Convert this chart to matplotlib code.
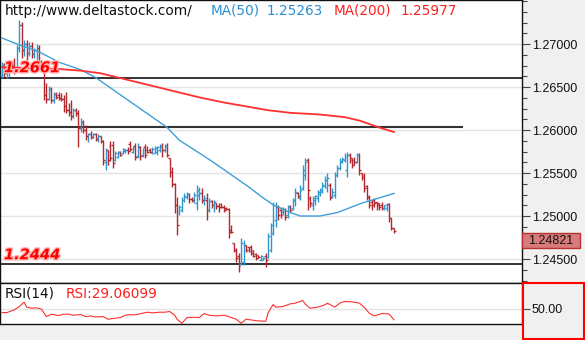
import matplotlib.pyplot as plt
import matplotlib.patheffects as pe
from matplotlib.patches import Rectangle
from matplotlib.ticker import MultipleLocator, FormatStrFormatter, FixedLocator
import matplotlib.transforms as mtransforms

# GBP/USD style OHLC bars
opens = [1.2664, 1.2676, 1.2666, 1.2674, 1.2679, 1.2674, 1.2670, 1.2695, 1.2722, 1.2693,
         1.2700, 1.2690, 1.2698, 1.2688, 1.2693, 1.2695, 1.2679,
         1.2674, 1.2641, 1.2636, 1.2648, 1.2635, 1.2642, 1.2641, 1.2637, 1.2636, 1.2628,
         1.2623, 1.2621, 1.2616, 1.2623,
         1.2620, 1.2602, 1.2609, 1.2600, 1.2593, 1.2595, 1.2592, 1.2595, 1.2590, 1.2593,
         1.2587, 1.2563, 1.2577, 1.2581, 1.2583, 1.2565, 1.2569, 1.2574, 1.2573, 1.2576,
         1.2577, 1.2584, 1.2574, 1.2581, 1.2570, 1.2580, 1.2571, 1.2580, 1.2577, 1.2577,
         1.2574, 1.2573, 1.2574, 1.2577, 1.2581, 1.2577, 1.2581, 1.2567, 1.2551, 1.2537, 1.2513,
         1.2505, 1.2507, 1.2519, 1.2522, 1.2526, 1.2520, 1.2519, 1.2515, 1.2524, 1.2527,
         1.2519, 1.2519, 1.2507, 1.2517, 1.2513, 1.2515, 1.2512, 1.2514, 1.2510, 1.2509,
         1.2508, 1.2484, 1.2469, 1.2460, 1.2453, 1.2444, 1.2446, 1.2466, 1.2464, 1.2464,
         1.2460, 1.2456, 1.2455, 1.2449, 1.2449, 1.2453, 1.2452, 1.2460, 1.2480, 1.2495,
         1.2510, 1.2507, 1.2505, 1.2507, 1.2501, 1.2512, 1.2509, 1.2519, 1.2527, 1.2521,
         1.2533, 1.2548, 1.2565, 1.2521, 1.2513, 1.2519, 1.2521, 1.2528, 1.2528, 1.2535,
         1.2533, 1.2536, 1.2522, 1.2524, 1.2548, 1.2556, 1.2563, 1.2565, 1.2554, 1.2571,
         1.2567, 1.2565, 1.2563, 1.2571, 1.2550, 1.2548, 1.2535, 1.2522, 1.2516, 1.2519,
         1.2516, 1.2515, 1.2513, 1.2509, 1.2509, 1.2514, 1.2498, 1.2486]
highs = [1.2679, 1.2678, 1.2679, 1.2681, 1.2680, 1.2684, 1.2699, 1.2728, 1.2726, 1.2705,
         1.2705, 1.2702, 1.2702, 1.2695, 1.2700, 1.2699, 1.2681,
         1.2677, 1.2655, 1.2651, 1.2650, 1.2644, 1.2644, 1.2644, 1.2643, 1.2641, 1.2644,
         1.2631, 1.2635, 1.2626, 1.2626,
         1.2623, 1.2614, 1.2612, 1.2606, 1.2597, 1.2599, 1.2597, 1.2597, 1.2595, 1.2593,
         1.2588, 1.2579, 1.2577, 1.2587, 1.2587, 1.2576, 1.2576, 1.2576, 1.2579, 1.2578,
         1.2580, 1.2587, 1.2581, 1.2585, 1.2585, 1.2581, 1.2579, 1.2584, 1.2581, 1.2579,
         1.2580, 1.2581, 1.2581, 1.2584, 1.2585, 1.2584, 1.2585, 1.2567, 1.2557, 1.2538, 1.2522,
         1.2513, 1.2522, 1.2527, 1.2528, 1.2527, 1.2522, 1.2528, 1.2536, 1.2534, 1.2533,
         1.2524, 1.2527, 1.2521, 1.2519, 1.2519, 1.2515, 1.2515, 1.2515, 1.2513, 1.2510,
         1.2509, 1.2490, 1.2469, 1.2463, 1.2457, 1.2474, 1.2472, 1.2466, 1.2464, 1.2466,
         1.2460, 1.2457, 1.2455, 1.2455, 1.2452, 1.2457, 1.2480, 1.2492, 1.2516, 1.2516,
         1.2513, 1.2510, 1.2510, 1.2509, 1.2513, 1.2513, 1.2521, 1.2533, 1.2528, 1.2536,
         1.2559, 1.2567, 1.2567, 1.2523, 1.2523, 1.2524, 1.2530, 1.2533, 1.2540, 1.2547,
         1.2550, 1.2538, 1.2533, 1.2551, 1.2559, 1.2567, 1.2569, 1.2573, 1.2574, 1.2573,
         1.2567, 1.2569, 1.2573, 1.2573, 1.2550, 1.2550, 1.2536, 1.2524, 1.2519, 1.2521,
         1.2516, 1.2515, 1.2516, 1.2513, 1.2515, 1.2515, 1.2498, 1.2486]
lows = [1.2660, 1.2662, 1.2660, 1.2662, 1.2670, 1.2665, 1.2667, 1.2691, 1.2684, 1.2686,
        1.2681, 1.2686, 1.2684, 1.2684, 1.2681, 1.2674, 1.2670,
        1.2635, 1.2631, 1.2635, 1.2631, 1.2631, 1.2636, 1.2635, 1.2634, 1.2621, 1.2620,
        1.2616, 1.2612, 1.2614, 1.2616,
        1.2580, 1.2598, 1.2597, 1.2588, 1.2586, 1.2590, 1.2591, 1.2587, 1.2586, 1.2585,
        1.2559, 1.2554, 1.2559, 1.2564, 1.2556, 1.2564, 1.2567, 1.2570, 1.2572, 1.2573,
        1.2572, 1.2576, 1.2573, 1.2565, 1.2567, 1.2565, 1.2569, 1.2567, 1.2573, 1.2573,
        1.2572, 1.2573, 1.2571, 1.2574, 1.2569, 1.2574, 1.2569, 1.2545, 1.2534, 1.2503, 1.2478,
        1.2501, 1.2505, 1.2516, 1.2520, 1.2515, 1.2516, 1.2515, 1.2507, 1.2519, 1.2515,
        1.2513, 1.2495, 1.2505, 1.2509, 1.2505, 1.2508, 1.2505, 1.2509, 1.2505, 1.2507,
        1.2474, 1.2480, 1.2458, 1.2446, 1.2435, 1.2443, 1.2443, 1.2458, 1.2458, 1.2455,
        1.2452, 1.2449, 1.2451, 1.2449, 1.2449, 1.2441, 1.2451, 1.2458, 1.2478, 1.2487,
        1.2495, 1.2498, 1.2501, 1.2495, 1.2498, 1.2505, 1.2507, 1.2512, 1.2521, 1.2519,
        1.2530, 1.2542, 1.2507, 1.2510, 1.2507, 1.2513, 1.2516, 1.2523, 1.2527, 1.2533,
        1.2528, 1.2519, 1.2521, 1.2521, 1.2545, 1.2554, 1.2562, 1.2563, 1.2545, 1.2562,
        1.2556, 1.2559, 1.2562, 1.2548, 1.2542, 1.2528, 1.2519, 1.2509, 1.2507, 1.2510,
        1.2507, 1.2507, 1.2507, 1.2507, 1.2506, 1.2493, 1.2484, 1.2480]
closes = [1.2676, 1.2666, 1.2674, 1.2679, 1.2674, 1.2670, 1.2695, 1.2722, 1.2693, 1.2700,
          1.2690, 1.2698, 1.2688, 1.2693, 1.2695, 1.2679, 1.2674,
          1.2641, 1.2636, 1.2648, 1.2635, 1.2642, 1.2638, 1.2637, 1.2636, 1.2628, 1.2623,
          1.2621, 1.2616, 1.2623, 1.2620,
          1.2602, 1.2609, 1.2600, 1.2593, 1.2595, 1.2592, 1.2595, 1.2590, 1.2593, 1.2587,
          1.2565, 1.2577, 1.2565, 1.2567, 1.2562, 1.2573, 1.2574, 1.2571, 1.2578, 1.2577,
          1.2576, 1.2578, 1.2579, 1.2569, 1.2581, 1.2570, 1.2577, 1.2571, 1.2574, 1.2574,
          1.2578, 1.2579, 1.2580, 1.2581, 1.2577, 1.2581, 1.2571, 1.2551, 1.2537, 1.2513, 1.2490,
          1.2510, 1.2519, 1.2523, 1.2526, 1.2520, 1.2519, 1.2524, 1.2530, 1.2527, 1.2519,
          1.2521, 1.2507, 1.2517, 1.2513, 1.2516, 1.2512, 1.2510, 1.2510, 1.2507, 1.2508,
          1.2481, 1.2481, 1.2460, 1.2451, 1.2442, 1.2469, 1.2466, 1.2460, 1.2459, 1.2457,
          1.2453, 1.2451, 1.2452, 1.2453, 1.2451, 1.2449, 1.2477, 1.2490, 1.2513, 1.2510,
          1.2501, 1.2501, 1.2508, 1.2499, 1.2510, 1.2507, 1.2519, 1.2528, 1.2523, 1.2530,
          1.2554, 1.2563, 1.2530, 1.2515, 1.2521, 1.2523, 1.2526, 1.2530, 1.2536, 1.2542,
          1.2544, 1.2522, 1.2528, 1.2548, 1.2556, 1.2564, 1.2566, 1.2569, 1.2571, 1.2565,
          1.2559, 1.2563, 1.2571, 1.2554, 1.2545, 1.2533, 1.2522, 1.2513, 1.2513, 1.2515,
          1.2513, 1.2510, 1.2509, 1.2513, 1.2514, 1.2498, 1.2486, 1.24821]

# moving averages, sampled along the bar index
ma50_idx = [0, 7, 15, 23, 32, 38, 44, 51, 58, 67, 72, 78, 86, 92, 100, 105, 110, 116,
            121, 129, 136, 146, 153, 159]
ma50 = [1.2707, 1.2699, 1.2691, 1.2679, 1.2670, 1.2661, 1.2649, 1.2635, 1.2621, 1.2603,
        1.2588, 1.2577, 1.2562, 1.2550, 1.2534, 1.2523, 1.2513, 1.2505, 1.2500, 1.2500,
        1.2504, 1.2515, 1.2521, 1.25263]
ma200_idx = [0, 12, 23, 32, 40, 50, 60, 70, 80, 90, 100, 108, 117, 129, 139, 145, 149,
             154, 159]
ma200 = [1.2673, 1.2672, 1.2671, 1.2669, 1.2666, 1.2659, 1.2652, 1.2645, 1.2638, 1.2632,
         1.2627, 1.2623, 1.2620, 1.2618, 1.2615, 1.2611, 1.2607, 1.2602, 1.25977]

# RSI(14)
rsi_idx = [0, 2, 5, 7, 9, 10, 12, 14, 16, 18, 20, 23, 25, 27, 29, 32, 34, 36, 38, 41, 43,
           45, 48, 50, 52, 54, 57, 59, 61, 64, 66, 68, 70, 71, 73, 75, 78, 80, 82, 84, 87,
           90, 92, 95, 97, 99, 104, 107, 108, 110, 111, 114, 117, 119, 122, 123, 125, 128,
           131, 132, 135, 137, 139, 142, 145, 147, 149, 151, 154, 157, 159]
rsi = [42.9, 42.9, 48.1, 54.6, 63.0, 53.3, 51.4, 52.0, 49.4, 35.1, 39.7, 37.1, 39.7, 39.7,
       37.7, 39.0, 35.1, 36.4, 34.5, 35.1, 30.0, 31.3, 33.2, 37.7, 39.0, 38.4, 41.6, 43.6,
       42.3, 43.6, 43.6, 44.9, 38.4, 30.0, 22.2, 33.2, 33.9, 33.2, 41.0, 37.7, 36.4, 37.7,
       35.1, 30.0, 22.2, 30.0, 26.7, 26.1, 42.9, 58.5, 53.3, 54.6, 59.8, 61.1, 66.3, 59.1,
       51.4, 53.3, 57.8, 61.1, 53.3, 61.1, 64.3, 63.7, 61.1, 52.7, 41.6, 36.4, 41.0, 40.3,
       29.06099]

price_ticks = [1.245, 1.250, 1.255, 1.260, 1.265, 1.270]
level_hi = 1.2661
level_mid = 1.26035
level_lo = 1.2444

BLUE = '#2f97cf'
RED = '#b3282d'
AXFONT = 'Liberation Sans'

fig = plt.figure(figsize=(5.85, 3.4), dpi=100, facecolor='#f0f0f0')
ax = fig.add_axes([0, 57 / 340, 522 / 585, 283 / 340])
rax = fig.add_axes([0, 16 / 340, 522 / 585, 41 / 340])

n = len(closes)
xs = list(range(n))
cols = [BLUE if c >= o else RED for o, c in zip(opens, closes)]

ax.set_facecolor('white')
ax.set_xlim(-0.81, 210.95)
ax.set_ylim(1.24221, 1.27512)
ax.yaxis.tick_right()
ax.yaxis.set_major_locator(FixedLocator(price_ticks))
ax.yaxis.set_minor_locator(MultipleLocator(0.00125))
ax.yaxis.set_major_formatter(FormatStrFormatter('%.5f'))
ax.tick_params(axis='y', which='major', length=6, width=0.8, color='#444', pad=1,
               labelsize=9, labelcolor='#111')
ax.tick_params(axis='y', which='minor', length=3.5, width=0.8, color='#444')
for lab in ax.get_yticklabels():
    lab.set_fontfamily(AXFONT)
ax.set_xticks([])
ax.grid(axis='y', which='major', color='#e4e4e4', lw=1)
ax.set_axisbelow(True)
for s in ax.spines.values():
    s.set_color('#111')
    s.set_linewidth(1.0)

# bars
w = 0.75
ax.vlines(xs, lows, highs, colors=cols, lw=1.0, zorder=3)
ax.hlines(opens, [x - w for x in xs], xs, colors=cols, lw=1.0, zorder=3)
ax.hlines(closes, xs, [x + w for x in xs], colors=cols, lw=1.0, zorder=3)

ax.plot(ma50_idx, ma50, color='#3fa0d8', lw=1.0, zorder=4)
ax.plot(ma200_idx, ma200, color='#ff3030', lw=1.3, zorder=4)

# support / resistance lines
ax.axhline(level_hi, color='#111', lw=1.2, zorder=2)
ax.hlines(level_mid, -0.81, 187, color='#333', lw=1.5, zorder=2)
ax.axhline(level_lo, color='#111', lw=1.2, zorder=2)

blend = mtransforms.blended_transform_factory(ax.transAxes, ax.transData)
glow = [pe.withStroke(linewidth=2, foreground='#ffb3b3')]
ax.text(4 / 522, level_hi + 0.00115, '1.2661', transform=blend, color='#ff0000',
        fontsize=10.5, fontweight='bold', fontstyle='italic', va='center', ha='left',
        path_effects=glow, zorder=6)
ax.text(4 / 522, level_lo + 0.00110, '1.2444', transform=blend, color='#ff0000',
        fontsize=10.5, fontweight='bold', fontstyle='italic', va='center', ha='left',
        path_effects=glow, zorder=6)

# header
ty = 1 - 11 / 283
hs = 9.8
ax.text(5 / 522, ty, 'http://www.deltastock.com/', transform=ax.transAxes, fontsize=hs,
        color='#111', va='center', ha='left')
ax.text(211 / 522, ty, 'MA(50)', transform=ax.transAxes, fontsize=hs, color='#2a8fd0',
        va='center', ha='left')
ax.text(267 / 522, ty, '1.25263', transform=ax.transAxes, fontsize=hs, color='#2a8fd0',
        va='center', ha='left')
ax.text(334 / 522, ty, 'MA(200)', transform=ax.transAxes, fontsize=hs, color='#ff2020',
        va='center', ha='left')
ax.text(401 / 522, ty, '1.25977', transform=ax.transAxes, fontsize=hs, color='#ff2020',
        va='center', ha='left')

# last price marker on the price scale
last = closes[-1]
box_top = last - 0.0002
box_h = 0.00174
ax.add_patch(Rectangle((1.0, box_top - box_h), 58 / 522, box_h, transform=blend,
                       facecolor='#d97a7a', edgecolor='#b83232', lw=1, clip_on=False, zorder=7))
ax.text(1.0 + 29 / 522, box_top - box_h / 2, f'{last:.5f}', transform=blend, fontsize=9,
        family=AXFONT, color='#111', ha='center', va='center', clip_on=False, zorder=8)

# RSI panel
rax.set_facecolor('white')
rax.set_xlim(-0.81, 210.95)
rax.set_ylim(20.8, 100)
rax.yaxis.tick_right()
rax.yaxis.set_major_locator(FixedLocator([50]))
rax.yaxis.set_major_formatter(FormatStrFormatter('%.2f'))
rax.tick_params(axis='y', which='major', length=6, width=0.8, color='#444', pad=1,
                labelsize=9, labelcolor='#111')
for lab in rax.get_yticklabels():
    lab.set_fontfamily(AXFONT)
rax.set_xticks([])
rax.grid(axis='y', color='#e4e4e4', lw=1)
rax.set_axisbelow(True)
for s in rax.spines.values():
    s.set_color('#111')
    s.set_linewidth(1.0)
rax.plot(rsi_idx, rsi, color='#ff3030', lw=0.8)
rax.text(5 / 522, 0.74, 'RSI(14)', transform=rax.transAxes, fontsize=hs, color='#111',
         va='center', ha='left')
rax.text(66 / 522, 0.74, f'RSI:{rsi[-1]:.5f}', transform=rax.transAxes, fontsize=hs,
         color='#ff2020', va='center', ha='left')

fig.add_artist(Rectangle((522.5 / 585, 1 / 340), 61.5 / 585, 56 / 340,
                         transform=fig.transFigure, facecolor='none', edgecolor='#ff0000',
                         lw=1.5))

fig.savefig('out.png', dpi=100, facecolor=fig.get_facecolor())
